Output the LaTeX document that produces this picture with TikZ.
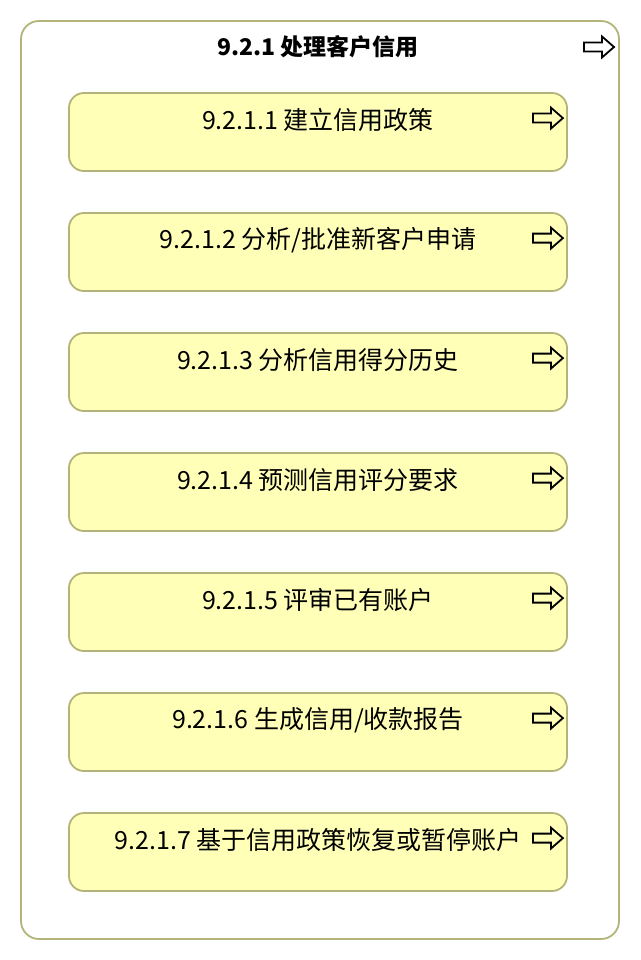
\documentclass[tikz,border=0pt]{standalone}
\usepackage{fontspec}
\newfontfamily\cjk{Noto Sans CJK SC}
\definecolor{boxline}{HTML}{B3B37A}
\definecolor{boxfill}{HTML}{FFFFB8}
\tikzset{goarrow/.pic={
    \draw[line width=1.8pt, line join=miter]
      (-15,-4.5) -- (3,-4.5) -- (3,-10.5) -- (15,0) -- (3,10.5) -- (3,4.5) -- (-15,4.5) -- cycle;}}

\begin{document}
\begin{tikzpicture}[x=1pt, y=-1pt,
    outerbox/.style = {draw=boxline, line width=1.8pt, rounded corners=18pt,
      minimum width=598pt, minimum height=918pt},
    taskbox/.style = {draw=boxline, line width=1.8pt, fill=boxfill,
      rounded corners=15pt, minimum width=498pt, minimum height=78pt},
    tasktext/.style = {font=\cjk\fontsize{25}{30}\selectfont, inner sep=0pt},
    titletext/.style = {font=\cjk\bfseries\fontsize{23}{28}\selectfont, inner sep=0pt}]
  \useasboundingbox (0,0) rectangle (640,960);
  \node[outerbox] (process) at (320,480) {};
  \node[titletext] (title) at (318,47) {9.2.1 处理客户信用};
  \pic at (599,47) {goarrow};
  \foreach \i/\name in {1/{建立信用政策}, 2/{分析/批准新客户申请}, 3/{分析信用得分历史},
      4/{预测信用评分要求}, 5/{评审已有账户}, 6/{生成信用/收款报告},
      7/{基于信用政策恢复或暂停账户}}{
    \node[taskbox] (t\i) at (318,{132+120*(\i-1)}) {};
    \node[tasktext] (t\i-text) at ([yshift=-28pt]t\i.north) {9.2.1.\i{} \name};
    \pic at ([xshift=-20pt,yshift=-26pt]t\i.north east) {goarrow};
  }
\end{tikzpicture}
\end{document}
